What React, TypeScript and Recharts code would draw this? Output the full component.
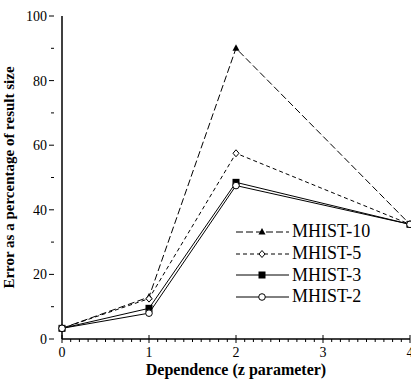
import { LineChart, Line, XAxis, YAxis } from 'recharts'

const zValues = [0, 1, 2, 4]
const mhist10 = [3.3, 13, 90, 35.5]
const mhist5 = [3.3, 12.5, 57.5, 35.5]
const mhist3 = [3.3, 9.5, 48.5, 35.5]
const mhist2 = [3.3, 8, 47.5, 35.5]

const xTicks = Array.from({ length: 41 }, (_, i) => i / 10)
const yTicks = [0, 10, 20, 30, 40, 50, 60, 70, 80, 90, 100]

const data = zValues.map((z, i) => ({
  z,
  m10: mhist10[i],
  m5: mhist5[i],
  m3: mhist3[i],
  m2: mhist2[i],
}))

const FONT = '"Liberation Serif", "DejaVu Serif", serif'

type Kind = 'triangle' | 'diamond' | 'square' | 'circle'

const series: { key: string; name: string; dash?: string; kind: Kind }[] = [
  { key: 'm10', name: 'MHIST-10', dash: '7 3', kind: 'triangle' },
  { key: 'm5', name: 'MHIST-5', dash: '4 3', kind: 'diamond' },
  { key: 'm3', name: 'MHIST-3', kind: 'square' },
  { key: 'm2', name: 'MHIST-2', kind: 'circle' },
]

function marker(kind: Kind, cx: number, cy: number, key?: string) {
  if (kind === 'triangle')
    return <path key={key} d={`M${cx},${cy - 4}L${cx + 3.5},${cy + 2.5}L${cx - 3.5},${cy + 2.5}Z`} fill="#000" />
  if (kind === 'diamond')
    return <path key={key} d={`M${cx},${cy - 3.5}L${cx + 3},${cy}L${cx},${cy + 3.5}L${cx - 3},${cy}Z`} fill="#fff" stroke="#000" strokeWidth={1} />
  if (kind === 'square')
    return <rect key={key} x={cx - 3.5} y={cy - 3.5} width={7} height={7} fill="#000" />
  return <circle key={key} cx={cx} cy={cy} r={3.3} fill="#fff" stroke="#000" strokeWidth={1} />
}

const AXIS_Y = 339

const XTick = (props: any) => {
  const { x, payload } = props
  const v = payload.value
  const major = Math.abs(v - Math.round(v)) < 1e-6
  return (
    <g>
      <line x1={x} x2={x} y1={major ? AXIS_Y - 4 : AXIS_Y} y2={major ? AXIS_Y + 4 : AXIS_Y + 3} stroke="#000" strokeWidth={1} />
      {major && (
        <text x={x} y={AXIS_Y + 18} textAnchor="middle" fontFamily={FONT} fontSize={14} fill="#000">
          {Math.round(v)}
        </text>
      )}
    </g>
  )
}

const YTick = (props: any) => {
  const { x, y, payload } = props
  const v = payload.value
  const major = v % 20 === 0
  return (
    <g>
      <line x1={x} x2={major ? x - 5 : x - 3} y1={y} y2={y} stroke="#000" strokeWidth={1} />
      {major && (
        <text x={x - 7} y={y + 5} textAnchor="end" fontFamily={FONT} fontSize={14} fill="#000">
          {v}
        </text>
      )}
    </g>
  )
}

const XLabel = (props: any) => {
  const vb = props.viewBox || {}
  return (
    <text x={vb.x + vb.width / 2} y={375} textAnchor="middle" fontFamily={FONT} fontSize={16} fontWeight="bold" fill="#000">
      Dependence (z parameter)
    </text>
  )
}

const LegendBox = () => (
  <div style={{ position: 'absolute', left: 234, top: 221, fontFamily: FONT, fontSize: 18, color: '#000' }}>
    {series.map((s) => (
      <div key={s.key} style={{ display: 'flex', alignItems: 'center', height: 21.7 }}>
        <svg width={58} height={12}>
          <line x1={2} x2={55} y1={6} y2={6} stroke="#000" strokeWidth={1} strokeDasharray={s.dash} />
          {marker(s.kind, 28, 6)}
        </svg>
        <span>{s.name}</span>
      </div>
    ))}
  </div>
)

export default function App() {
  return (
    <div style={{ position: 'relative', width: 411, height: 380, background: '#fff' }}>
      <style>{'body{margin:0}'}</style>
      <LineChart width={411} height={380} data={data} margin={{ top: 16, right: 1, left: 0, bottom: 0 }}>
        <XAxis
          dataKey="z"
          type="number"
          domain={[0, 4]}
          ticks={xTicks}
          interval={0}
          tick={<XTick />}
          tickLine={false}
          axisLine={{ stroke: '#000', strokeWidth: 1.5 }}
          height={41}
          label={{ position: 'insideBottom', content: <XLabel /> }}
        />
        <YAxis
          type="number"
          domain={[0, 100]}
          ticks={yTicks}
          interval={0}
          tick={<YTick />}
          tickLine={false}
          axisLine={{ stroke: '#000', strokeWidth: 1.5 }}
          width={62}
          label={{ value: 'Error as a percentage of result size', angle: -90, position: 'insideLeft', offset: 9, style: { textAnchor: 'middle' }, fontFamily: FONT, fontSize: 15, fontWeight: 'bold', fill: '#000' }}
        />
        <XAxis xAxisId="top" orientation="top" type="number" domain={[0, 4]} tick={false} tickLine={false} axisLine={{ stroke: '#000', strokeWidth: 1.5 }} height={0} />
        <YAxis yAxisId="right" orientation="right" type="number" domain={[0, 100]} tick={false} tickLine={false} axisLine={{ stroke: '#000', strokeWidth: 1.5 }} width={0} />
        {series.map((s) => (
          <Line
            key={s.key}
            dataKey={s.key}
            name={s.name}
            stroke="#000"
            strokeWidth={1}
            strokeDasharray={s.dash}
            isAnimationActive={false}
            dot={(p: any) => marker(s.kind, p.cx, p.cy, `${s.key}-${p.index}`)}
            activeDot={false}
          />
        ))}
      </LineChart>
      <LegendBox />
    </div>
  )
}
